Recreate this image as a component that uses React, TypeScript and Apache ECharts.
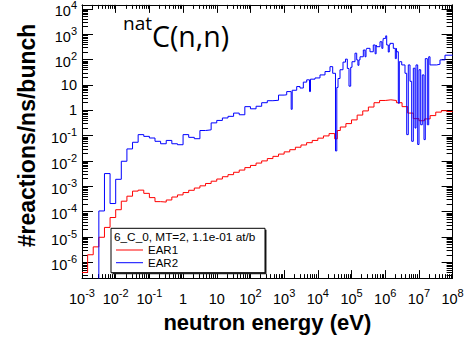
import React, { useEffect, useRef } from "react";
import * as echarts from "echarts";

// ---- binning / ranges ----
const BINS_PER_DECADE = 6;
const E_MIN = 1e-3;
const E_MAX = 1e8;
const Y_MIN = 2.4e-7;
const Y_MAX = 1.45e4;

// ---- tick values ----
const X_MAJOR = [1e-3, 1e-2, 1e-1, 1, 10, 1e2, 1e3, 1e4, 1e5, 1e6, 1e7, 1e8];
const Y_MAJOR = [1e-6, 1e-5, 1e-4, 1e-3, 1e-2, 1e-1, 1, 10, 1e2, 1e3, 1e4];
const MANTISSAS = [2, 3, 4, 5, 6, 7, 8, 9];
const X_DECADES = [1e-3, 1e-2, 1e-1, 1, 10, 1e2, 1e3, 1e4, 1e5, 1e6, 1e7];
const Y_DECADES = [1e-7, 1e-6, 1e-5, 1e-4, 1e-3, 1e-2, 1e-1, 1, 10, 1e2, 1e3, 1e4];

// ---- EAR1 (red): one value per 1/6-decade bin from 1 meV (bins 0..44) ----
const EAR1_BINS = [
  4e-7, 2.0e-6, 4.1e-6, 9.8e-6, 2.4e-5, 5.9e-5, 1.2e-4, 2.6e-4, 4.1e-4, 6.5e-4,
  7.1e-4, 5.3e-4, 3.6e-4, 2.5e-4, 2.4e-4, 2.9e-4, 3.8e-4, 4.6e-4, 5.7e-4, 7.0e-4,
  8.6e-4, 1.05e-3, 1.3e-3, 1.6e-3, 1.95e-3, 2.4e-3, 2.9e-3, 3.6e-3, 4.4e-3, 5.5e-3,
  6.7e-3, 8.3e-3, 0.0101, 0.0125, 0.0153, 0.0188, 0.023, 0.028, 0.035, 0.043,
  0.053, 0.065, 0.08, 0.098, 0.121,
];
// EAR1 above ~30 keV: log10(E/eV) of each step start and its value
const EAR1_FINE_LOGE = [
  4.5, 4.578, 4.667, 4.833, 5.0, 5.167, 5.333, 5.5, 5.667, 5.833, 6.0,
  6.167, 6.333, 6.5, 6.667, 6.833, 7.0, 7.167, 7.333, 7.5, 7.667, 7.833,
];
const EAR1_FINE_VAL = [
  0.075, 0.16, 0.22, 0.3, 0.42, 0.65, 0.95, 1.35, 2.0, 2.45, 2.6,
  2.45, 2.0, 1.4, 0.78, 0.47, 0.39, 0.46, 0.62, 0.85, 0.97, 0.9,
];

// ---- EAR2 (blue): 1/6-decade bins 3..35, then fine structure ----
const EAR2_FIRST_BIN = 3;
const EAR2_BINS = [
  1.07e-4, 3.2e-3, 2.1e-4, 1.9e-3, 9.8e-3, 0.03, 0.055, 0.11, 0.094, 0.081,
  0.06, 0.048, 0.065, 0.048, 0.044, 0.11, 0.086, 0.076, 0.16, 0.17,
  0.32, 0.4, 0.5, 0.58, 0.78, 0.67, 1.4, 1.15, 1.45, 2.0,
  2.4, 2.5, 4.0,
];
const EAR2_FINE_LOGE = [
  3.0, 3.076, 3.209, 3.239, 3.373, 3.471, 3.569, 3.67, 3.753, 3.782,
  3.916, 4.064, 4.213, 4.361, 4.441, 4.524, 4.563, 4.599, 4.658, 4.747,
  4.821, 4.875, 4.925, 4.976, 5.014, 5.103, 5.154, 5.19, 5.22, 5.252,
  5.35, 5.4, 5.43, 5.45, 5.548, 5.646, 5.7, 5.73, 5.747, 5.845,
  5.9, 5.93, 5.943, 6.015, 6.044, 6.09, 6.12, 6.142, 6.24, 6.3,
  6.33, 6.341, 6.389, 6.418, 6.49, 6.587, 6.638, 6.685, 6.736, 6.786,
  6.834, 6.884, 6.914, 6.964, 7.003, 7.053, 7.101, 7.151, 7.19, 7.249,
  7.291, 7.33, 7.528, 7.626, 7.774,
];
const EAR2_FINE_VAL = [
  4.1, 5.5, 1.1, 6.2, 8.7, 7.6, 13, 16, 5.5, 17,
  19, 25, 34, 53, 29, 0.025, 8, 18, 40, 80,
  105, 45, 9, 50, 83, 180, 98, 60, 98, 130,
  240, 130, 240, 280, 205, 380, 170, 380, 325, 510,
  280, 510, 690, 870, 380, 200, 380, 440, 280, 110,
  280, 205, 1.9, 83, 62, 29, 0.11, 62, 14, 0.06,
  46, 0.2, 62, 0.045, 40, 0.27, 25, 0.07, 110, 0.27,
  130, 62, 66, 98, 150,
];

const LEGEND_HEADER = "6_C_0, MT=2, 1.1e-01 at/b";
const X_TITLE = "neutron energy (eV)";
const Y_TITLE = "#reactions/ns/bunch";

const binStart = (i: number) => Math.pow(10, Math.log10(E_MIN) + i / BINS_PER_DECADE);

function buildSteps(firstBin: number, bins: number[], fineLogE: number[], fineVal: number[]) {
  const pts: number[][] = bins.map((v, k) => [binStart(firstBin + k), v]);
  fineLogE.forEach((le, k) => pts.push([Math.pow(10, le), fineVal[k]]));
  pts.push([E_MAX, fineVal[fineVal.length - 1]]);
  return pts;
}

const minorTicks = (decades: number[], lo: number, hi: number) => {
  const out: number[] = [];
  decades.forEach((d) => MANTISSAS.forEach((m) => {
    const v = m * d;
    if (v > lo && v < hi) out.push(v);
  }));
  return out;
};

const FONT = "Liberation Sans";
const RICH = {
  p: { fontSize: 14.5, fontFamily: FONT, color: "#000", height: 23 },
  b: { fontSize: 14.5, fontFamily: FONT, color: "#000", height: 13, verticalAlign: "bottom" },
  s: { fontSize: 11, fontFamily: FONT, color: "#000", height: 11, padding: [0, 0, 7, 0], verticalAlign: "top" },
};

const fmtPow = (v: number) => {
  const e = Math.log10(v);
  const r = Math.round(e);
  if (Math.abs(e - r) > 1e-3) return "";
  if (r === 0) return "{p|1}";
  if (r === 1) return "{p|10}";
  return `{b|10}{s|${r}}`;
};

const LINE_ICON = "path://M0,0 L27,0 L27,1 L0,1 Z";

export default function App() {
  const ref = useRef<HTMLDivElement>(null);
  useEffect(() => {
    const chart = echarts.init(ref.current!, null, { renderer: "svg" });
    const red = buildSteps(0, EAR1_BINS, EAR1_FINE_LOGE, EAR1_FINE_VAL);
    const blue = [[binStart(EAR2_FIRST_BIN), 1e-9], ...buildSteps(EAR2_FIRST_BIN, EAR2_BINS, EAR2_FINE_LOGE, EAR2_FINE_VAL)];
    const xMinor = minorTicks(X_DECADES, E_MIN, E_MAX);
    const yMinor = minorTicks(Y_DECADES, Y_MIN, Y_MAX);
    const black = { color: "#000", width: 1 };
    const line = { show: true, onZero: false, lineStyle: black };
    const noLine = { show: false, onZero: false };
    const ax = (o: any) => ({
      type: "log", logBase: 10, splitLine: { show: false }, minorTick: { show: false },
      minorSplitLine: { show: false }, axisLabel: { show: false }, ...o,
    });
    const tick = (len: number, values: number[]) => ({ show: true, inside: true, length: len, customValues: values, lineStyle: black });
    const xr = { min: E_MIN, max: E_MAX };
    const yr = { min: Y_MIN, max: Y_MAX };
    const option: any = {
      animation: false,
      backgroundColor: "#fff",
      grid: { left: 82, right: 14.4, top: 4.7, bottom: 58.5, containLabel: false },
      title: {
        text: "{s|nat}{m|C(n,n)}",
        left: 123,
        top: 17,
        padding: 0,
        textStyle: {
          fontWeight: "normal",
          rich: {
            s: { fontSize: 19, fontWeight: "normal", fontFamily: "Open Sans", color: "#000", height: 12, padding: [0, 0, 6, 0], verticalAlign: "top" },
            m: { fontSize: 28.5, fontWeight: "normal", fontFamily: "Open Sans", color: "#000", height: 37, verticalAlign: "middle" },
          },
        },
      },
      xAxis: [
        ax({
          ...xr, position: "bottom", axisLine: line, axisTick: tick(8, X_MAJOR),
          axisLabel: { show: true, margin: 9, customValues: X_MAJOR, formatter: fmtPow, rich: RICH, color: "#000" },
          name: X_TITLE, nameLocation: "middle", nameGap: 31,
          nameTextStyle: { fontSize: 22, fontWeight: "bold", fontFamily: FONT, color: "#000" },
        }),
        ax({ ...xr, position: "top", axisLine: line, axisTick: tick(8, X_MAJOR) }),
        ax({ ...xr, position: "bottom", axisLine: noLine, axisTick: tick(4, xMinor) }),
        ax({ ...xr, position: "top", axisLine: noLine, axisTick: tick(4, xMinor) }),
      ],
      yAxis: [
        ax({
          ...yr, position: "left", axisLine: line, axisTick: tick(11, Y_MAJOR),
          axisLabel: { show: true, margin: 5, customValues: Y_MAJOR, formatter: fmtPow, rich: RICH, color: "#000" },
          name: Y_TITLE, nameLocation: "middle", nameGap: 44,
          nameTextStyle: { fontSize: 23, fontWeight: "bold", fontFamily: FONT, color: "#000", padding: [0, 0, 0, 12] },
        }),
        ax({ ...yr, position: "right", axisLine: line, axisTick: tick(11, Y_MAJOR) }),
        ax({ ...yr, position: "left", axisLine: noLine, axisTick: tick(6, yMinor) }),
        ax({ ...yr, position: "right", axisLine: noLine, axisTick: tick(6, yMinor) }),
      ],
      legend: {
        data: [{ name: "EAR1", icon: LINE_ICON }, { name: "EAR2", icon: LINE_ICON }],
        orient: "vertical",
        left: 116,
        top: 244,
        padding: 0,
        itemWidth: 27,
        itemHeight: 14,
        itemGap: 0.7,
        symbolKeepAspect: true,
        selectedMode: false,
        z: 200,
        textStyle: { fontSize: 11.5, fontFamily: FONT, color: "#000" },
      },
      graphic: [
        { type: "rect", z: 100, shape: { x: 112.5, y: 229.8, width: 154, height: 44.4 }, style: { fill: "#222" } },
        { type: "rect", z: 101, shape: { x: 111, y: 228.3, width: 154, height: 44.4 }, style: { fill: "#fff", stroke: "#000", lineWidth: 1 } },
        { type: "text", z: 102, x: 114, y: 236.7, style: { text: LEGEND_HEADER, font: `11.8px "${FONT}"`, fill: "#000", verticalAlign: "middle" } },
      ],
      series: [
        {
          name: "EAR1", type: "line", step: "end", data: red, symbol: "none", xAxisIndex: 0, yAxisIndex: 0,
          lineStyle: { color: "#ff0000", width: 1 }, itemStyle: { color: "#ff0000" }, z: 3,
        },
        {
          name: "EAR2", type: "line", step: "end", data: blue, symbol: "none", xAxisIndex: 0, yAxisIndex: 0,
          lineStyle: { color: "#0000ff", width: 1 }, itemStyle: { color: "#0000ff" }, z: 4,
        },
      ],
    };
    chart.setOption(option);
    return () => chart.dispose();
  }, []);
  return (
    <div
      ref={ref}
      style={{ position: "absolute", left: 0, top: 0, width: 467, height: 338, background: "#fff" }}
    />
  );
}
